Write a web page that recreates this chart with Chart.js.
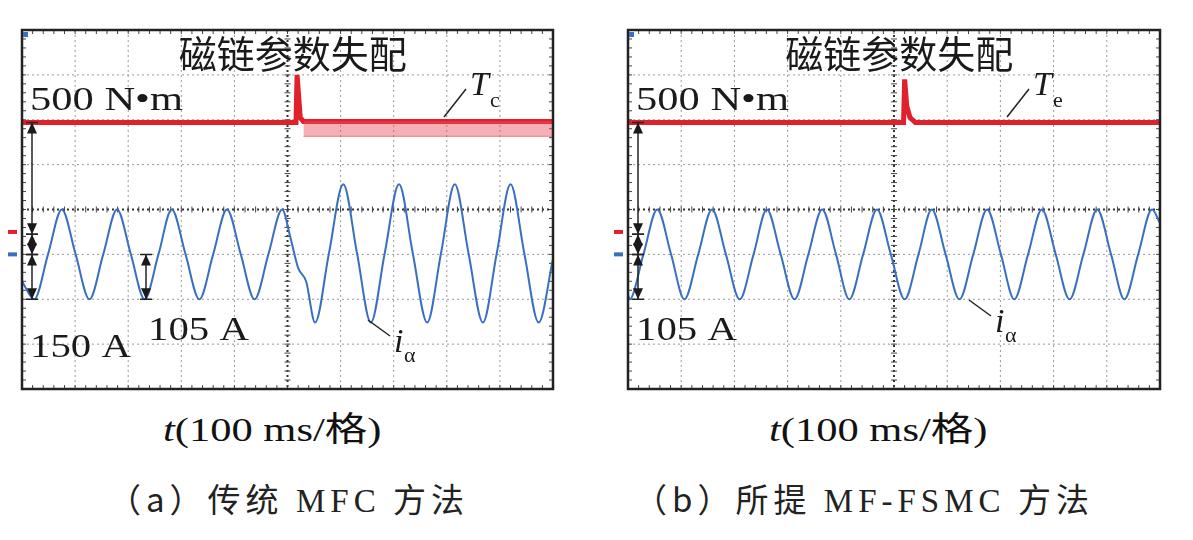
<!DOCTYPE html>
<html>
<head>
<meta charset="utf-8">
<script src="https://cdn.jsdelivr.net/npm/chart.js@4"></script>
<style>
body { margin:0; width:1193px; height:540px; background:#fff; position:relative; overflow:hidden; }
.cv { position:absolute; top:0; width:580px; height:400px; }
.lbl { position:absolute; font-family:"Liberation Serif","Noto Sans CJK SC",serif; color:#111; white-space:nowrap; font-size:34px; transform:scaleX(1.25); transform-origin:left top; }
.cap { position:absolute; top:474px; font-family:"Noto Sans CJK SC",serif; font-size:33px; color:#222; letter-spacing:5px; white-space:nowrap; }
</style>
</head>
<body>
<div class="cv" style="left:0"><canvas id="chartA"></canvas></div>
<div class="cv" style="left:606px"><canvas id="chartB"></canvas></div>
<div class="lbl" style="left:163px;top:402px"><i>t</i>(100 ms/格)</div>
<div class="lbl" style="left:769px;top:402px"><i>t</i>(100 ms/格)</div>
<div class="cap" style="left:108px">（a）传统 <span style="font-family:'Liberation Serif'">MFC</span> 方法</div>
<div class="cap" style="left:634px">（b）所提 <span style="font-family:'Liberation Serif'">MF-FSMC</span> 方法</div>
<script>
// time in divisions (100 ms/div), amplitude in divisions
const iaLeftT = [0, 0.23, 0.49, 0.75, 1.01, 1.27, 1.53, 1.79, 2.05, 2.31, 2.57, 2.82, 3.08, 3.34, 3.60, 3.86, 4.12, 4.38, 4.64, 4.90, 5.05, 5.2, 5.35, 5.52, 5.78, 6.05, 6.31, 6.57, 6.83, 7.10, 7.36, 7.63, 7.89, 8.15, 8.41, 8.68, 8.94, 9.20, 9.46, 9.73, 10];
const iaLeftV = [-1.6, -2, -1, 0, -1, -2, -1, 0, -1, -2, -1, 0, -1, -2, -1, 0, -1, -2, -1, 0, -0.6, -1.3, -1.6, -2.52, -0.98, 0.56, -0.98, -2.52, -0.98, 0.56, -0.98, -2.52, -0.98, 0.56, -0.98, -2.52, -0.98, 0.56, -0.98, -2.52, -1.1];
const iaRightT = [0, 0.03, 0.29, 0.55, 0.81, 1.06, 1.32, 1.58, 1.84, 2.10, 2.36, 2.61, 2.87, 3.13, 3.39, 3.65, 3.91, 4.16, 4.42, 4.68, 4.94, 5.20, 5.46, 5.71, 5.97, 6.23, 6.49, 6.75, 7.01, 7.26, 7.52, 7.78, 8.04, 8.30, 8.56, 8.82, 9.08, 9.33, 9.59, 9.85, 10];
const iaRightV = [-1.9, -2, -1, 0, -1, -2, -1, 0, -1, -2, -1, 0, -1, -2, -1, 0, -1, -2, -1, 0, -1, -2, -1, 0, -1, -2, -1, 0, -1, -2, -1, 0, -1, -2, -1, 0, -1, -2, -1, 0, -0.3];
const teLeftT = [0, 5.16, 5.18, 5.24, 5.3, 10];
const teLeftV = [1.94, 1.94, 3.0, 2.05, 1.96, 1.96];
const teRippleT = [5.3, 10];
const teRippleTop = [1.97, 1.97];
const teRippleLow = [1.63, 1.63];
const teRightT = [0, 5.18, 5.2, 5.24, 5.3, 5.4, 10];
const teRightV = [1.94, 1.94, 2.9, 2.3, 2.05, 1.94, 1.94];

const RED = '#e0202a', BLUE = '#3a6fc0';

function pts(t, v) { return t.map((x, i) => ({ x: x, y: v[i] })); }

function wideText(ctx, s, x, y, font, sx) {
    ctx.save();
    ctx.translate(x, y);
    ctx.scale(sx, 1);
    ctx.font = font;
    ctx.fillText(s, 0, 0);
    ctx.restore();
}

const scopeGrid = {
    id: 'scopeGrid',
    beforeDatasetsDraw(chart) {
        const { ctx, chartArea: a, scales: { x, y } } = chart;
        ctx.save();
        ctx.strokeStyle = '#9a9a9a';
        ctx.lineWidth = 1;
        ctx.setLineDash([2, 3]);
        for (let i = 1; i < 10; i++) {
            if (i === 5) continue;
            ctx.beginPath(); ctx.moveTo(x.getPixelForValue(i), a.top); ctx.lineTo(x.getPixelForValue(i), a.bottom); ctx.stroke();
        }
        for (let j = -3; j <= 3; j++) {
            if (j === 0) continue;
            ctx.beginPath(); ctx.moveTo(a.left, y.getPixelForValue(j)); ctx.lineTo(a.right, y.getPixelForValue(j)); ctx.stroke();
        }
        ctx.strokeStyle = '#333';
        ctx.lineWidth = 2;
        ctx.beginPath(); ctx.moveTo(x.getPixelForValue(5), a.top); ctx.lineTo(x.getPixelForValue(5), a.bottom); ctx.stroke();
        ctx.beginPath(); ctx.moveTo(a.left, y.getPixelForValue(0)); ctx.lineTo(a.right, y.getPixelForValue(0)); ctx.stroke();
        ctx.setLineDash([]);
        ctx.lineWidth = 1;
        ctx.strokeStyle = '#444';
        // minor ticks on border and centre lines
        for (let k = 0; k <= 50; k++) {
            const px = x.getPixelForValue(k / 5);
            ctx.beginPath();
            ctx.moveTo(px, a.top); ctx.lineTo(px, a.top + 4);
            ctx.moveTo(px, a.bottom); ctx.lineTo(px, a.bottom - 4);
            ctx.moveTo(px, y.getPixelForValue(0) - 3); ctx.lineTo(px, y.getPixelForValue(0) + 3);
            ctx.stroke();
        }
        for (let k = -20; k <= 20; k++) {
            const py = y.getPixelForValue(k / 5);
            ctx.beginPath();
            ctx.moveTo(a.left, py); ctx.lineTo(a.left + 4, py);
            ctx.moveTo(a.right, py); ctx.lineTo(a.right - 4, py);
            ctx.moveTo(x.getPixelForValue(5) - 3, py); ctx.lineTo(x.getPixelForValue(5) + 3, py);
            ctx.stroke();
        }
        ctx.restore();
    },
    afterDraw(chart) {
        const { ctx, chartArea: a, scales: { x, y } } = chart;
        const o = chart.options.plugins.scopeGrid;
        ctx.save();
        ctx.strokeStyle = '#222';
        ctx.lineWidth = 2.5;
        ctx.strokeRect(a.left, a.top, a.right - a.left, a.bottom - a.top);
        ctx.fillStyle = '#1a1a1a';
        ctx.textBaseline = 'alphabetic';
        ctx.font = '38px "Noto Sans CJK SC"';
        ctx.textAlign = 'center';
        ctx.fillText('磁链参数失配', x.getPixelForValue(5.1), a.top + 38);
        ctx.textAlign = 'left';
        wideText(ctx, '500 N•m', a.left + 8, a.top + 80, '34px "Liberation Serif"', 1.25);
        o.texts.forEach(t => wideText(ctx, t[0], a.left + t[1], a.top + t[2], '34px "Liberation Serif"', 1.2));
        // Te and i_alpha labels with leader lines
        ctx.lineWidth = 1.5;
        const tx = a.left + o.te[0], ty = a.top + o.te[1];
        const ix = a.left + o.ia[0], iy = a.top + o.ia[1];
        ctx.beginPath(); ctx.moveTo(tx - 26, ty + 22); ctx.lineTo(tx - 4, ty - 6); ctx.stroke();
        ctx.font = 'italic 34px "Liberation Serif"';
        ctx.fillText('T', tx, ty);
        ctx.font = '22px "Liberation Serif"';
        ctx.fillText(o.sub, tx + 20, ty + 12);
        ctx.beginPath(); ctx.moveTo(ix - 26, iy - 32); ctx.lineTo(ix - 4, iy - 16); ctx.stroke();
        ctx.font = 'italic 34px "Liberation Serif"';
        ctx.fillText('i', ix, iy);
        ctx.font = '22px "Liberation Serif"';
        ctx.fillText('α', ix + 10, iy + 10);
        // scale arrows
        ctx.lineWidth = 1.5;
        o.arrows.forEach(ar => {
            const px = a.left + ar[0], p1 = y.getPixelForValue(ar[1]), p2 = y.getPixelForValue(ar[2]);
            ctx.beginPath(); ctx.moveTo(px, p1); ctx.lineTo(px, p2); ctx.stroke();
            [[p1, 1], [p2, -1]].forEach(([p, d]) => {
                ctx.beginPath(); ctx.moveTo(px, p); ctx.lineTo(px - 5, p + 11 * d); ctx.lineTo(px + 5, p + 11 * d); ctx.closePath(); ctx.fill();
            });
            ctx.beginPath(); ctx.moveTo(px - 6, p1); ctx.lineTo(px + 6, p1); ctx.moveTo(px - 6, p2); ctx.lineTo(px + 6, p2); ctx.stroke();
        });
        // channel markers
        ctx.fillStyle = RED;
        ctx.fillRect(a.left - 14, y.getPixelForValue(-0.5) - 2, 9, 4);
        ctx.fillStyle = BLUE;
        ctx.fillRect(a.left - 14, y.getPixelForValue(-1) - 2, 9, 4);
        ctx.fillRect(a.left + 1, a.top + 2, 5, 5);
        ctx.restore();
    }
};

function makeChart(id, datasets, opts) {
    return new Chart(document.getElementById(id), {
        type: 'line',
        data: { datasets: datasets },
        plugins: [scopeGrid],
        options: {
            responsive: true,
            maintainAspectRatio: false,
            animation: false,
            layout: { padding: { left: 22, top: 30, right: opts.right, bottom: 11 } },
            elements: { point: { radius: 0 } },
            scales: {
                x: { type: 'linear', min: 0, max: 10, display: false },
                y: { min: -4, max: 4, display: false }
            },
            plugins: { legend: { display: false }, tooltip: { enabled: false }, scopeGrid: opts }
        }
    });
}

makeChart('chartA', [
    { data: pts(teRippleT, teRippleTop), borderWidth: 0, borderColor: RED },
    { data: pts(teRippleT, teRippleLow), borderWidth: 1, borderColor: 'rgba(224,32,42,0.5)', fill: '-1', backgroundColor: 'rgba(236,80,90,0.45)' },
    { data: pts(teLeftT, teLeftV), borderColor: RED, borderWidth: 5 },
    { data: pts(iaLeftT, iaLeftV), borderColor: BLUE, borderWidth: 2, cubicInterpolationMode: 'monotone' }
], {
    right: 27,
    texts: [['150 A', 8, 327], ['105 A', 126, 310]],
    te: [448, 65], sub: 'c', ia: [372, 322],
    arrows: [[10, 1.94, -0.55], [10, -0.55, -1.0], [10, -1.0, -2.0], [124, -1.0, -2.0]]
});

makeChart('chartB', [
    { data: pts(teRightT, teRightV), borderColor: RED, borderWidth: 5 },
    { data: pts(iaRightT, iaRightV), borderColor: BLUE, borderWidth: 2, cubicInterpolationMode: 'monotone' }
], {
    right: 26,
    texts: [['105 A', 8, 310]],
    te: [405, 65], sub: 'e', ia: [367, 302],
    arrows: [[10, 1.94, -0.55], [10, -0.55, -1.0], [10, -1.0, -2.0]]
});
</script>
</body>
</html>
